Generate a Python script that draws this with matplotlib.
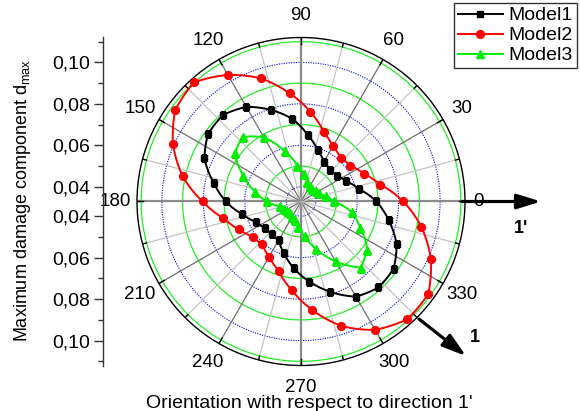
import numpy as np
import matplotlib
matplotlib.use('Agg')
import matplotlib.pyplot as plt
from matplotlib.patches import FancyArrowPatch
from matplotlib.ticker import FixedLocator

plt.rcParams['font.family'] = ['Liberation Sans', 'DejaVu Sans']
plt.rcParams['mathtext.fontset'] = 'custom'
plt.rcParams['mathtext.rm'] = 'Liberation Sans'

# ---------------- data ----------------
angles_deg = [0, 12, 24, 36, 48, 60, 72, 84, 96, 108, 120, 132, 144, 156, 168,
              180, 192, 204, 216, 228, 240, 252, 264, 276, 288, 300, 312, 324, 336, 348]
model1 = [0.0693, 0.0615, 0.0569, 0.0541, 0.0536, 0.0551, 0.0589, 0.0650, 0.0729, 0.0793,
          0.0856, 0.0891, 0.0883, 0.0839, 0.0759, 0.0691, 0.0620, 0.0569, 0.0546, 0.0540,
          0.0545, 0.0592, 0.0653, 0.0717, 0.0787, 0.0859, 0.0887, 0.0881, 0.0834, 0.0761]
model2 = [0.0822, 0.0719, 0.0660, 0.0623, 0.0614, 0.0636, 0.0682, 0.0763, 0.0853, 0.0953,
          0.1034, 0.1102, 0.1079, 0.1005, 0.0912, 0.0803, 0.0712, 0.0658, 0.0617, 0.0608,
          0.0637, 0.0679, 0.0758, 0.0855, 0.0960, 0.1044, 0.1094, 0.1088, 0.1015, 0.0923]
model3 = [0.0488, 0.0450, 0.0425, 0.0416, 0.0411, 0.0416, 0.0430, 0.0464, 0.0503, 0.0584,
          0.0686, 0.0748, 0.0724, 0.0633, 0.0556, 0.0493, 0.0435, 0.0421, 0.0411, 0.0406,
          0.0416, 0.0425, 0.0454, 0.0498, 0.0570, 0.0662, 0.0758, 0.0724, 0.0642, 0.0580]
series_names = ['Model1', 'Model2', 'Model3']

r_min, r_max = 0.0329, 0.1120
green_rings = [0.05, 0.07, 0.09, 0.11]
blue_rings = [0.04, 0.06, 0.08, 0.10]
left_major = [0.04, 0.06, 0.08, 0.10]
left_minor = [0.05, 0.07, 0.09, 0.11]
angle_labels = [0, 30, 60, 90, 120, 150, 180, 210, 240, 270, 300, 330]

W, H = 580, 411
fig = plt.figure(figsize=(W / 100, H / 100), dpi=100)

cx, cy, R = 301, 201.5, 164
ax = fig.add_axes([(cx - R) / W, (H - cy - R) / H, 2 * R / W, 2 * R / H],
                  projection='polar')
ax.set_ylim(r_min, r_max)
ax.set_xticks([])
ax.set_yticks([])
ax.grid(False)
ax.spines['polar'].set_color('black')
ax.spines['polar'].set_linewidth(1.0)

full = np.linspace(0, 2 * np.pi, 721)
for r in green_rings:
    ax.plot(full, np.full_like(full, r), color='#22ee22', lw=0.9, zorder=1)
for r in blue_rings:
    ax.plot(full, np.full_like(full, r), color='#0000ff', lw=0.8,
            linestyle=(0, (1, 1.2)), zorder=1)

for a in range(0, 360, 15):
    t = np.deg2rad(a)
    if a % 90 == 0:
        c, lw = '#8a8a8a', 1.6
    elif a % 30 == 0:
        c, lw = '#6e6e6e', 0.9
    else:
        c, lw = '#c4c4c4', 0.9
    ax.plot([t, t], [r_min, r_max], color=c, lw=lw, zorder=1.2)
    L = 0.0030 if a % 30 == 0 else 0.0019
    ax.plot([t, t], [r_max - L, r_max], color='black', lw=1.0, zorder=1.5)

# close each loop by returning to the first point at 360 degrees
th = np.deg2rad(np.append(angles_deg, angles_deg[0] + 360))
styles = [dict(color='black', marker='s', ms=4.6),
          dict(color='#ff0000', marker='o', ms=5.6),
          dict(color='#00ee00', marker='^', ms=6.2)]
handles = []
for vals, st, name in zip([model1, model2, model3], styles, series_names):
    rr = np.append(vals, vals[0])
    h, = ax.plot(th, rr, lw=1.4, color=st['color'], marker=st['marker'],
                 ms=st['ms'], markevery=list(range(len(angles_deg))),
                 label=name, zorder=3)
    # draw segments as curves in polar space instead of straight chords
    h.get_path()._interpolation_steps = 24
    handles.append(h)

for a in angle_labels:
    t = np.deg2rad(a)
    rp = 177 if a == 0 else 186
    ax.text(t, r_min + rp / R * (r_max - r_min), str(a), ha='center', va='center',
            fontsize=13.5, clip_on=False)

# left mirrored radial axis
axl = fig.add_axes([103.3 / W, (H - cy - R) / H, 0.0001, 2 * R / H])
span = r_max - r_min
axl.set_ylim(-span, span)
axl.set_xticks([])
for s in ['top', 'right', 'bottom']:
    axl.spines[s].set_visible(False)
axl.spines['left'].set_linewidth(1.0)
axl.spines['left'].set_color('#333333')
maj_pos = [v - r_min for v in left_major[::-1]] + [-(v - r_min) for v in left_major]
maj_lab = [('%.2f' % v).replace('.', ',') for v in left_major[::-1]] + \
          [('%.2f' % v).replace('.', ',') for v in left_major]
axl.yaxis.set_major_locator(FixedLocator(maj_pos))
axl.set_yticklabels(maj_lab, fontsize=14)
min_pos = [v - r_min for v in left_minor] + [-(v - r_min) for v in left_minor]
axl.yaxis.set_minor_locator(FixedLocator(min_pos))
axl.tick_params(axis='y', which='major', direction='out', length=6.5, width=1,
                pad=3, color='#333333')
axl.tick_params(axis='y', which='minor', direction='out', length=3.3, width=1,
                color='#333333')
axl.patch.set_alpha(0)

fig.text(23 / W, 1 - 201 / H, r'Maximum damage component d$_{\mathrm{max}}$',
         rotation=90, ha='center', va='center', fontsize=13)
fig.text(309 / W, 1 - 408 / H, "Orientation with respect to direction 1'",
         ha='center', va='baseline', fontsize=14)

leg = ax.legend(handles=handles, loc='upper right',
                bbox_to_anchor=(576.5 / W, 1 - 3 / H), bbox_transform=fig.transFigure,
                borderaxespad=0, fancybox=False, edgecolor='#333333', framealpha=1,
                fontsize=14, handlelength=2.3, handletextpad=0.3,
                labelspacing=0.12, borderpad=0.2)
leg.get_frame().set_linewidth(1.0)

def fp(x, y):
    return (x / W, 1 - y / H)

for (x0, y0), (x1, y1) in [((462, 201.5), (541, 201.5)), ((419, 319), (466, 356))]:
    arr = FancyArrowPatch(fp(x0, y0), fp(x1, y1), transform=fig.transFigure,
                          arrowstyle='-|>,head_length=1.45,head_width=0.45',
                          mutation_scale=10, lw=2.3, color='black',
                          shrinkA=0, shrinkB=0, zorder=5)
    fig.add_artist(arr)

fig.text(521 / W, 1 - 228 / H, "1'", ha='center', va='center', fontsize=13,
         fontweight='bold')
fig.text(475 / W, 1 - 337 / H, "1", ha='center', va='center', fontsize=13,
         fontweight='bold')

fig.savefig('out.png', dpi=100)
